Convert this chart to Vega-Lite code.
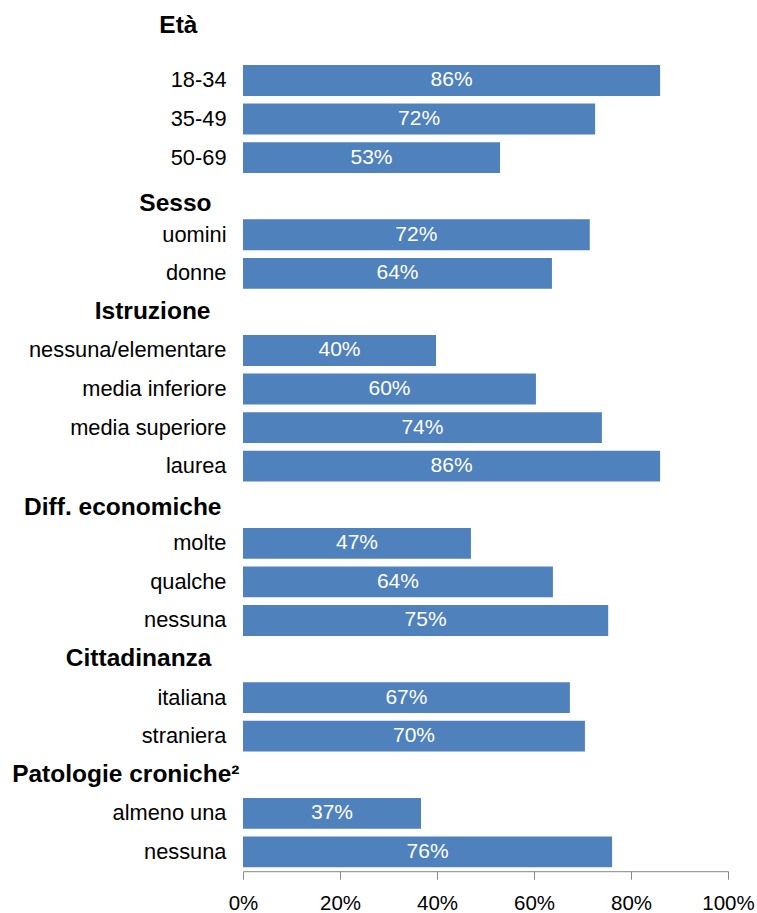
{
  "$schema": "https://vega.github.io/schema/vega-lite/v6.json",
  "autosize": "none",
  "width": 485,
  "height": 848.6,
  "padding": {"left": 243, "top": 22.6, "right": 29, "bottom": 41.8},
  "background": "white",
  "config": {"view": {"stroke": null}, "font": "Liberation Sans"},
  "data": {
    "values": [
      {"key": "18-34", "value": 0.860, "label": "86%"},
      {"key": "35-49", "value": 0.726, "label": "72%"},
      {"key": "50-69", "value": 0.530, "label": "53%"},
      {"key": "uomini", "value": 0.715, "label": "72%"},
      {"key": "donne", "value": 0.637, "label": "64%"},
      {"key": "nessuna/elementare", "value": 0.398, "label": "40%"},
      {"key": "media inferiore", "value": 0.604, "label": "60%"},
      {"key": "media superiore", "value": 0.740, "label": "74%"},
      {"key": "laurea", "value": 0.860, "label": "86%"},
      {"key": "molte", "value": 0.470, "label": "47%"},
      {"key": "qualche", "value": 0.639, "label": "64%"},
      {"key": "nessuna", "value": 0.753, "label": "75%"},
      {"key": "italiana", "value": 0.674, "label": "67%"},
      {"key": "straniera", "value": 0.705, "label": "70%"},
      {"key": "almeno una", "value": 0.367, "label": "37%"},
      {"key": "nessuna|2", "value": 0.761, "label": "76%"}
    ]
  },
  "encoding": {
    "y": {
      "field": "key",
      "type": "nominal",
      "scale": {
        "domain": ["Età", "18-34", "35-49", "50-69", "Sesso", "uomini", "donne", "Istruzione", "nessuna/elementare", "media inferiore", "media superiore", "laurea", "Diff. economiche", "molte", "qualche", "nessuna", "Cittadinanza", "italiana", "straniera", "Patologie croniche²", "almeno una", "nessuna|2"],
        "paddingInner": 0.2,
        "paddingOuter": 0.1
      },
      "axis": {
        "title": null,
        "domain": false,
        "ticks": false,
        "tickSize": 0,
        "labelLimit": 400,
        "labelExpr": "split(datum.value, '|')[0]",
        "labelColor": "black",
        "labelFont": "Liberation Sans",
        "labelFontSize": {
          "condition": {"test": "indexof(['Età','Sesso','Istruzione','Diff. economiche','Cittadinanza','Patologie croniche²'], datum.value) >= 0", "value": 24.5},
          "value": 21.8
        },
        "labelFontWeight": {
          "condition": {"test": "indexof(['Età','Sesso','Istruzione','Diff. economiche','Cittadinanza','Patologie croniche²'], datum.value) >= 0", "value": "bold"},
          "value": "normal"
        },
        "labelPadding": {
          "condition": [
            {"test": "datum.value == 'Età'", "value": 46},
            {"test": "datum.value == 'Sesso'", "value": 32},
            {"test": "datum.value == 'Istruzione'", "value": 33},
            {"test": "datum.value == 'Diff. economiche'", "value": 22},
            {"test": "datum.value == 'Cittadinanza'", "value": 32},
            {"test": "datum.value == 'Patologie croniche²'", "value": 4}
          ],
          "value": 17
        },
        "labelOffset": {
          "condition": [
            {"test": "datum.value == 'Età'", "value": -15.5},
            {"test": "datum.value == 'Sesso'", "value": 8},
            {"test": "datum.value == 'Diff. economiche'", "value": 3}
          ],
          "value": 0
        }
      }
    }
  },
  "layer": [
    {
      "mark": {"type": "bar", "color": "#4F81BD"},
      "encoding": {
        "x": {
          "field": "value",
          "type": "quantitative",
          "scale": {"domain": [0, 1], "nice": false},
          "axis": {
            "title": null,
            "values": [0, 0.2, 0.4, 0.6, 0.8, 1],
            "format": ".0%",
            "grid": false,
            "domainColor": "#868686",
            "tickColor": "#868686",
            "tickSize": 8,
            "labelFontSize": 20.5,
            "labelColor": "black",
            "labelFont": "Liberation Sans",
            "labelPadding": 14,
            "labelFlush": false,
            "labelOverlap": false
          }
        }
      }
    },
    {
      "mark": {"type": "text", "color": "white", "fontSize": 21, "font": "Liberation Sans", "align": "center", "baseline": "middle"},
      "encoding": {
        "x": {
          "field": "value",
          "type": "quantitative",
          "scale": {"domain": [0, 2], "nice": false},
          "axis": null
        },
        "text": {"field": "label"}
      }
    }
  ],
  "resolve": {"scale": {"x": "independent"}}
}
